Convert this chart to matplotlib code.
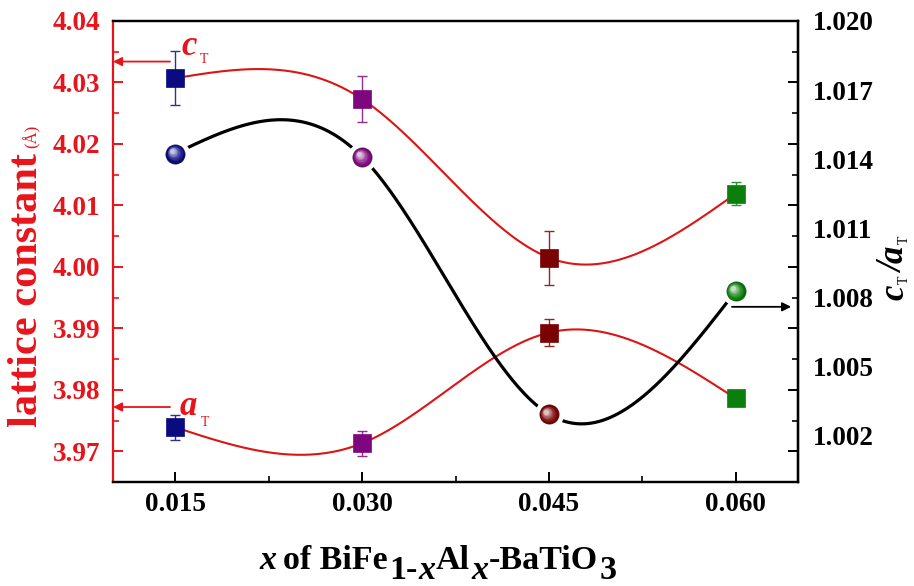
import numpy as np
import matplotlib

matplotlib.use("Agg")

import matplotlib.pyplot as plt
from matplotlib.colors import to_rgb
from matplotlib.ticker import FixedLocator, FormatStrFormatter, MultipleLocator
from matplotlib.transforms import offset_copy

# data
x_frac = [0.015, 0.030, 0.045, 0.060]
c_t = [4.0307, 4.0273, 4.0015, 4.0119]
c_t_err = [0.0044, 0.0038, 0.0044, 0.0019]
a_t = [3.9739, 3.9713, 3.9893, 3.9786]
a_t_err = [0.0020, 0.0020, 0.0022, 0.0003]
ca_ratio = [1.01425, 1.01410, 1.00294, 1.00828]
point_colors = ["#0b0b80", "#7e077e", "#7a0202", "#0b7f0b"]
ratio_ticks = [1.002, 1.005, 1.008, 1.011, 1.014, 1.017, 1.020]

left_lim = (3.965, 4.040)
right_lim = (1.000, 1.020)
x_lim = (0.010, 0.065)

RED = "#e8141b"
LINE_RED = "#dc1414"
W, H = 914, 586
SERIF = "Liberation Serif"


def natural_spline(x, y, n=300):
    x = np.asarray(x, float)
    y = np.asarray(y, float)
    h = np.diff(x)
    k = len(x)
    A = np.zeros((k, k))
    b = np.zeros(k)
    A[0, 0] = A[-1, -1] = 1.0
    for i in range(1, k - 1):
        A[i, i - 1] = h[i - 1]
        A[i, i] = 2 * (h[i - 1] + h[i])
        A[i, i + 1] = h[i]
        b[i] = 6 * ((y[i + 1] - y[i]) / h[i] - (y[i] - y[i - 1]) / h[i - 1])
    M = np.linalg.solve(A, b)
    xs = np.linspace(x[0], x[-1], n)
    idx = np.clip(np.searchsorted(x, xs) - 1, 0, k - 2)
    x0, x1 = x[idx], x[idx + 1]
    hh = x1 - x0
    p = (x1 - xs) / hh
    q = (xs - x0) / hh
    ys = p * y[idx] + q * y[idx + 1] + ((p**3 - p) * M[idx] + (q**3 - q) * M[idx + 1]) * hh**2 / 6
    return xs, ys


def mix(c, other, t):
    c = np.array(to_rgb(c))
    o = np.array(to_rgb(other))
    return tuple(c * (1 - t) + o * t)


def text_run(fig, x, y, pieces, rotate=False, color="black"):
    """Place text pieces one after another; x, y in pixels from top-left (baseline start).
    shift > 0 moves a piece below the baseline (subscript)."""
    renderer = fig.canvas.get_renderer()
    pos = 0.0
    for s, size, style, weight, shift, gap in pieces:
        pos += gap
        if rotate:
            fx, fy = x + shift, (H - y) + pos
            t = fig.text(fx / W, fy / H, s, rotation=90, rotation_mode="anchor",
                         ha="left", va="baseline", fontsize=size, fontstyle=style,
                         fontweight=weight, family=SERIF, color=color)
            pos += t.get_window_extent(renderer).height
        else:
            fx, fy = x + pos, (H - y) - shift
            t = fig.text(fx / W, fy / H, s, ha="left", va="baseline", fontsize=size,
                         fontstyle=style, fontweight=weight, family=SERIF, color=color)
            pos += t.get_window_extent(renderer).width


fig = plt.figure(figsize=(W / 100, H / 100), dpi=100)
ax1 = fig.add_axes([113 / W, (H - 482) / H, 685 / W, 461 / H])
ax2 = ax1.twinx()

# red curves + squares (left axis)
for vals, errs in ((c_t, c_t_err), (a_t, a_t_err)):
    xs, ys = natural_spline(x_frac, vals)
    ax1.plot(xs, ys, color=LINE_RED, lw=1.5, zorder=2)
    for xi, yi, ei, col in zip(x_frac, vals, errs, point_colors):
        ax1.errorbar(xi, yi, yerr=ei, fmt="none", ecolor=mix(col, "white", 0.15),
                     elinewidth=1.0, capsize=3.8, capthick=1.0, zorder=3)
        ax1.plot(xi, yi, "s", ms=12.3, mfc=col, mec=col, mew=0.5, zorder=4)

# black curve + spheres (right axis)
xs, ys = natural_spline(x_frac, ca_ratio)
ax2.plot(xs, ys, color="black", lw=2.3, zorder=2)
for xi, yi, col in zip(x_frac, ca_ratio, point_colors):
    ax2.plot(xi, yi, "o", ms=21, mfc="white", mec="none", zorder=3)
    ax2.plot(xi, yi, "o", ms=13.8, mfc=mix(col, "black", 0.15), mec=mix(col, "black", 0.3),
             mew=0.5, zorder=4)
    steps = 9
    for k in range(1, steps):
        t = k / steps
        tr = offset_copy(ax2.transData, fig=fig, x=-3.2 * t, y=3.0 * t, units="dots")
        ax2.plot(xi, yi, "o", ms=13.2 * (1 - 0.82 * t), mfc=mix(col, "white", 0.92 * t**1.6),
                 mec="none", transform=tr, zorder=4 + t)

# axes styling
ax1.set_xlim(*x_lim)
ax1.set_ylim(*left_lim)
ax2.set_ylim(*right_lim)

ax1.xaxis.set_major_locator(FixedLocator(x_frac))
ax1.xaxis.set_minor_locator(MultipleLocator(0.0075))
ax1.xaxis.set_major_formatter(FormatStrFormatter("%.3f"))
ax1.yaxis.set_major_locator(MultipleLocator(0.01))
ax1.yaxis.set_minor_locator(MultipleLocator(0.005))
ax1.yaxis.set_major_formatter(FormatStrFormatter("%.2f"))

ax2.yaxis.set_major_locator(FixedLocator(ratio_ticks))
ax2.yaxis.set_major_formatter(FormatStrFormatter("%.3f"))
ax2.yaxis.set_minor_locator(FixedLocator([]))

for ax in (ax1, ax2):
    for sp in ax.spines.values():
        sp.set_linewidth(1.6)
        sp.set_color("black")
ax1.spines["left"].set_color(RED)
ax2.spines["left"].set_visible(False)

tick_font = dict(family=SERIF, weight="bold", size=19.5)
ax1.tick_params(axis="x", which="major", direction="in", length=7, width=1.4, pad=7, top=False)
ax1.tick_params(axis="x", which="minor", direction="in", length=4, width=1.2, top=False)
ax1.tick_params(axis="y", which="major", direction="in", length=7, width=1.4, pad=9,
                color=RED, labelcolor=RED)
ax1.tick_params(axis="y", which="minor", direction="in", length=4, width=1.2, color=RED)
ax2.tick_params(axis="y", which="major", length=0, pad=11)
for lab in ax1.get_xticklabels() + ax1.get_yticklabels() + ax2.get_yticklabels():
    lab.set_fontproperties(tick_font)

# right-hand tick marks follow the left-axis grid (as in the original figure)
sec = ax1.secondary_yaxis("right")
sec.yaxis.set_major_locator(MultipleLocator(0.01))
sec.yaxis.set_minor_locator(MultipleLocator(0.005))
sec.tick_params(which="major", direction="in", length=7, width=1.4, color="black",
                labelright=False)
sec.tick_params(which="minor", direction="in", length=4, width=1.2, color="black")
sec.spines["right"].set_linewidth(1.6)
sec.spines["right"].set_color("black")

# arrows
arrow_red = dict(arrowstyle="-|>", color=RED, lw=1.3, mutation_scale=13, shrinkA=0, shrinkB=0)
ax1.annotate("", xy=(0.0, 4.0334), xycoords=("axes fraction", "data"),
             xytext=(0.01458, 4.0334), textcoords="data", arrowprops=arrow_red, zorder=6)
ax1.annotate("", xy=(0.0, 3.9772), xycoords=("axes fraction", "data"),
             xytext=(0.01458, 3.9772), textcoords="data", arrowprops=arrow_red, zorder=6)
ax2.annotate("", xy=(0.99, 1.0076), xycoords=("axes fraction", "data"),
             xytext=(0.0597, 1.0076), textcoords="data",
             arrowprops=dict(arrowstyle="-|>", color="black", lw=1.3, mutation_scale=13,
                             shrinkA=0, shrinkB=0), zorder=7)

fig.canvas.draw()

# in-plot labels c_T and a_T
text_run(fig, 181, 55, [("c", 25, "italic", "bold", 0, 0),
                        ("T", 10, "normal", "normal", 8, 3)], color=RED)
text_run(fig, 180, 415, [("a", 25, "italic", "bold", 0, 0),
                         ("T", 10, "normal", "normal", 11, 3)], color=RED)

# y labels
text_run(fig, 37, 427, [("lattice constant", 30.5, "normal", "bold", 0, 0),
                        ("(Å)", 12, "normal", "normal", 0, 5)], rotate=True, color=RED)
text_run(fig, 903, 300, [("c", 25, "italic", "bold", 0, 0),
                         ("T", 10, "normal", "normal", 5, 1),
                         ("/", 25, "italic", "bold", 0, 2),
                         ("a", 25, "italic", "bold", 0, 1),
                         ("T", 10, "normal", "normal", 5, 1)], rotate=True)

# x label (the original uses full-size, dropped subscripts)
fs = 24.5
text_run(fig, 259, 569, [("x", fs, "italic", "bold", 0, 0),
                         ("of BiFe", fs, "normal", "bold", 0, 7),
                         ("1-", fs, "normal", "bold", 10, 2),
                         ("x", fs, "italic", "bold", 10, 0),
                         ("Al", fs, "normal", "bold", 0, 1),
                         ("x", fs, "italic", "bold", 10, 1),
                         ("-BaTiO", fs, "normal", "bold", 0, 1),
                         ("3", fs, "normal", "bold", 10, 1)])

fig.savefig("out.png", dpi=100, facecolor="white")
